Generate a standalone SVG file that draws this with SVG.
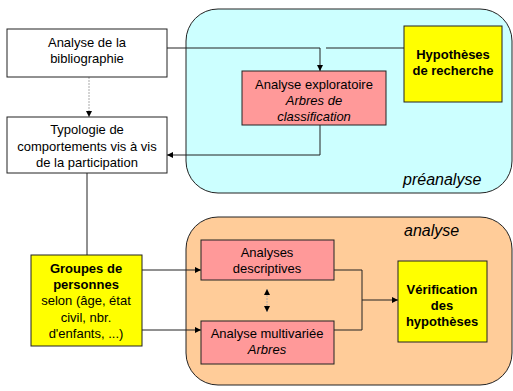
<svg xmlns="http://www.w3.org/2000/svg" width="513" height="391" viewBox="0 0 513 391">
<defs>
<style>
text{font-family:"Liberation Sans",Arial,sans-serif;font-size:13px;fill:#000;text-anchor:middle}
.b{font-weight:bold}
.i{font-style:italic}
.lbl{font-size:16px;font-style:italic;text-anchor:start}
.box{stroke:#222;stroke-width:1}
.w{fill:#fff}.p{fill:#ff9999}.y{fill:#ffff00}
.c{fill:none;stroke:#222;stroke-width:1}
.d{fill:none;stroke:#aaa;stroke-width:1;stroke-dasharray:2 1}
</style>
<marker id="a" viewBox="0 0 6 6" refX="6" refY="3" markerWidth="6" markerHeight="6" orient="auto" markerUnits="userSpaceOnUse"><path d="M0,0L6,3L0,6z" fill="#000"/></marker>
<marker id="s" viewBox="0 0 6 6" refX="0" refY="3" markerWidth="6" markerHeight="6" orient="auto" markerUnits="userSpaceOnUse"><path d="M6,0L0,3L6,6z" fill="#000"/></marker>
</defs>
<g id="preanalyse">
<rect x="186" y="9" width="326" height="184" rx="32" fill="#ccffff" stroke="#222"/>
<text class="lbl" x="403" y="185">préanalyse</text>
</g>
<g id="analyse">
<rect x="186" y="217" width="326" height="168" rx="32" fill="#ffcc99" stroke="#222"/>
<text class="lbl" x="404" y="236">analyse</text>
</g>
<g id="connectors">
<path class="c" d="M167,48H320V71" marker-end="url(#a)"/>
<path class="c" d="M404,48H326"/>
<path class="c" d="M320,125V155H167" marker-end="url(#a)"/>
<path class="d" d="M89,77V117" marker-end="url(#a)"/>
<path class="c" d="M87,173V255"/>
<path class="c" d="M142,270H201" marker-end="url(#a)"/>
<path class="c" d="M142,330H201" marker-end="url(#a)"/>
<path class="d" d="M267,289V312" marker-start="url(#s)" marker-end="url(#a)"/>
<path class="c" d="M334,270H362V330H334"/>
<path class="c" d="M362,300H398" marker-end="url(#a)"/>
</g>
<g id="biblio">
<rect class="box w" x="7" y="29" width="160" height="48"/>
<text x="87" y="47">Analyse de la</text>
<text x="87" y="63">bibliographie</text>
</g>
<g id="typologie">
<rect class="box w" x="7" y="117" width="160" height="56"/>
<text x="87" y="134">Typologie de</text>
<text x="87" y="151">comportements vis à vis</text>
<text x="87" y="167">de la participation</text>
</g>
<g id="exploratoire">
<rect class="box p" x="242" y="71" width="144" height="54"/>
<text x="314" y="89">Analyse exploratoire</text>
<text class="i" x="314" y="105">Arbres de</text>
<text class="i" x="314" y="121">classification</text>
</g>
<g id="hypotheses">
<rect class="box y" x="404" y="26" width="98" height="76"/>
<text class="b" x="453" y="59">Hypothèses</text>
<text class="b" x="453" y="75">de recherche</text>
</g>
<g id="groupes">
<rect class="box y" x="31" y="255" width="111" height="91"/>
<text class="b" x="86" y="273">Groupes de</text>
<text class="b" x="86" y="289">personnes</text>
<text x="86" y="305">selon (âge, état</text>
<text x="86" y="322">civil, nbr.</text>
<text x="86" y="338">d'enfants, ...)</text>
</g>
<g id="descriptives">
<rect class="box p" x="201" y="240" width="133" height="40"/>
<text x="267" y="257">Analyses</text>
<text x="267" y="273">descriptives</text>
</g>
<g id="multivariee">
<rect class="box p" x="201" y="321" width="133" height="43"/>
<text x="267" y="338">Analyse multivariée</text>
<text class="i" x="267" y="354">Arbres</text>
</g>
<g id="verification">
<rect class="box y" x="398" y="261" width="89" height="81"/>
<text class="b" x="442" y="294">Vérification</text>
<text class="b" x="442" y="310">des</text>
<text class="b" x="442" y="326">hypothèses</text>
</g>
</svg>
